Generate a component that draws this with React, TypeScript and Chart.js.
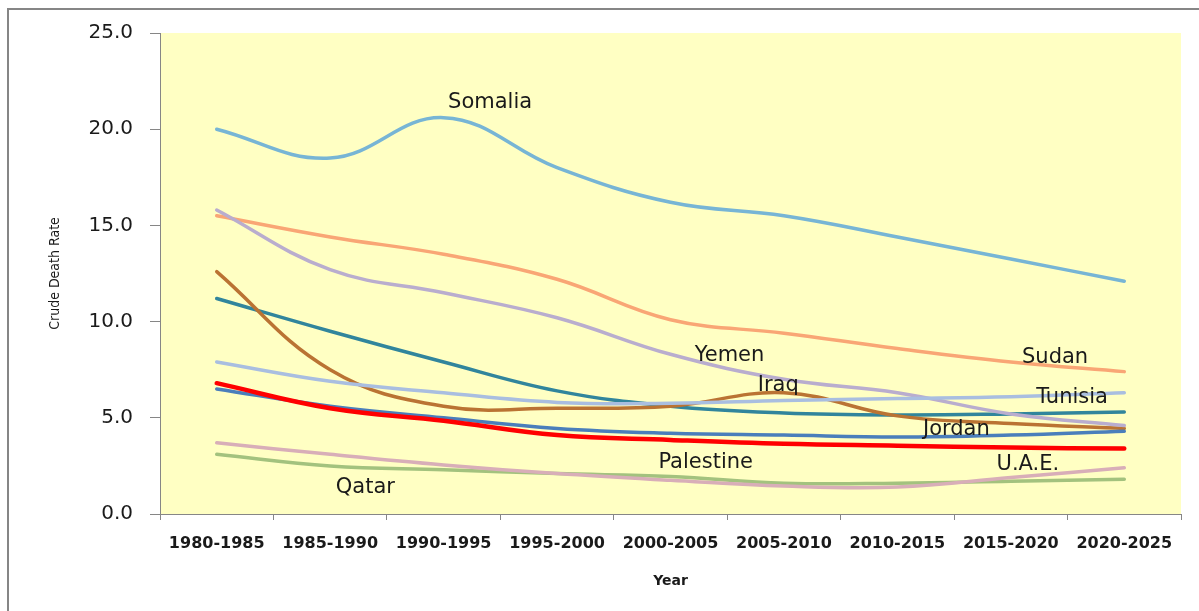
import React, { useEffect, useRef } from "react";
import { Chart, registerables } from "chart.js";

Chart.register(...registerables);

// ---- data ----
const periods = [
  "1980-1985",
  "1985-1990",
  "1990-1995",
  "1995-2000",
  "2000-2005",
  "2005-2010",
  "2010-2015",
  "2015-2020",
  "2020-2025",
];

const somalia = [20.0, 18.5, 20.6, 18.0, 16.2, 15.5, 14.4, 13.25, 12.1];
const sudan = [15.5, 14.4, 13.5, 12.2, 10.1, 9.4, 8.6, 7.9, 7.4];
const yemen = [15.8, 12.7, 11.5, 10.2, 8.3, 7.0, 6.3, 5.2, 4.6];
const iraq = [12.6, 7.5, 5.6, 5.5, 5.6, 6.3, 5.1, 4.7, 4.45];
const unlabelledTeal = [11.2, 9.5, 7.9, 6.4, 5.6, 5.25, 5.15, 5.2, 5.3];
const tunisia = [7.9, 6.9, 6.3, 5.8, 5.75, 5.9, 6.0, 6.1, 6.3];
const palestine = [6.8, 5.5, 4.85, 4.1, 3.85, 3.65, 3.55, 3.45, 3.4];
const jordan = [6.5, 5.6, 5.0, 4.45, 4.2, 4.1, 4.0, 4.1, 4.3];
const uae = [3.7, 3.1, 2.55, 2.1, 1.75, 1.45, 1.4, 1.9, 2.4];
const qatar = [3.1, 2.5, 2.3, 2.1, 1.95, 1.6, 1.6, 1.7, 1.8];

const yTicks = [0, 5, 10, 15, 20, 25];

// series name labels: [text, category position, value position]
const labelTexts = ["Somalia", "Yemen", "Iraq", "Sudan", "Tunisia", "Jordan", "Palestine", "U.A.E.", "Qatar"];
const labelIdx = [2.41, 4.52, 4.95, 7.39, 7.54, 6.52, 4.31, 7.15, 1.31];
const labelVal = [21.36, 8.26, 6.7, 8.11, 6.03, 4.37, 2.7, 2.55, 1.4];

const bgPlugin = {
  id: "plotBg",
  beforeDraw(chart: any) {
    const { ctx, chartArea: a } = chart;
    ctx.save();
    ctx.fillStyle = "#FFFFC3";
    ctx.fillRect(a.left, a.top, a.right - a.left, a.bottom - a.top);
    ctx.restore();
  },
};

const labelPlugin = {
  id: "seriesLabels",
  afterDatasetsDraw(chart: any) {
    const { ctx } = chart;
    const xs = chart.scales.x;
    const ys = chart.scales.y;
    ctx.save();
    ctx.font = "21px 'DejaVu Sans', sans-serif";
    ctx.fillStyle = "#1a1a1a";
    ctx.textAlign = "center";
    ctx.textBaseline = "middle";
    labelTexts.forEach((t, i) => {
      ctx.fillText(t, xs.getPixelForValue(labelIdx[i]), ys.getPixelForValue(labelVal[i]));
    });
    ctx.restore();
  },
};

const line = (label: string, data: number[], color: string, width = 3.5) => ({
  label,
  data,
  borderColor: color,
  backgroundColor: color,
  borderWidth: width,
  pointRadius: 0,
  pointHoverRadius: 0,
  tension: 0.4,
  borderCapStyle: "round" as const,
  borderJoinStyle: "round" as const,
  fill: false,
});

export default function App() {
  const ref = useRef<HTMLCanvasElement | null>(null);

  useEffect(() => {
    document.body.style.margin = "0";
    document.body.style.overflow = "hidden";
    if (!ref.current) return;
    const chart = new Chart(ref.current, {
      type: "line",
      data: {
        labels: periods,
        datasets: [
          line("Palestine", palestine, "#FF0000", 4.5),
          line("Tunisia", tunisia, "#A9BEE0"),
          line("Yemen", yemen, "#B9ADCE"),
          line("U.A.E.", uae, "#D8AEB8"),
          line("Qatar", qatar, "#A3C27E"),
          line("Jordan", jordan, "#4A7EBB"),
          line("Iraq", iraq, "#BA7333"),
          line("Unlabelled", unlabelledTeal, "#31859C"),
          line("Sudan", sudan, "#F9A675"),
          line("Somalia", somalia, "#77B5D5"),
        ],
      },
      options: {
        responsive: false,
        animation: false,
        devicePixelRatio: 1,
        layout: { padding: { left: 0, right: 18, top: 33, bottom: 0 } },
        plugins: {
          legend: { display: false },
          tooltip: { enabled: false },
        },
        scales: {
          x: {
            type: "category",
            offset: true,
            afterFit: (s: any) => {
              s.height = 97;
            },
            grid: {
              display: true,
              drawOnChartArea: false,
              drawTicks: true,
              tickLength: 6,
              offset: true,
              color: "#868686",
              lineWidth: 1,
            },
            border: { display: true, color: "#868686", width: 1 },
            ticks: {
              padding: 14,
              maxRotation: 0,
              autoSkip: false,
              color: "#1a1a1a",
              font: { family: "'DejaVu Sans', sans-serif", size: 16, weight: "bold" },
            },
            title: {
              display: true,
              text: "Year",
              color: "#1a1a1a",
              padding: { top: 0, bottom: 21 },
              font: { family: "'DejaVu Sans', sans-serif", size: 14, weight: "bold" },
            },
          },
          y: {
            min: 0,
            max: 25,
            afterFit: (s: any) => {
              s.width = 160;
            },
            afterBuildTicks: (s: any) => {
              s.ticks = yTicks.map((v) => ({ value: v }));
            },
            grid: {
              display: true,
              drawOnChartArea: false,
              drawTicks: true,
              tickLength: 10,
              color: "#868686",
              lineWidth: 1,
            },
            border: { display: true, color: "#868686", width: 1 },
            ticks: {
              padding: 17,
              color: "#1a1a1a",
              font: { family: "'DejaVu Sans', sans-serif", size: 20 },
              callback: (v: any) => Number(v).toFixed(1),
            },
            title: {
              display: true,
              text: "Crude Death Rate",
              color: "#1a1a1a",
              padding: { top: 47, bottom: 0 },
              font: { family: "'DejaVu Sans Condensed', 'Liberation Sans Narrow', sans-serif", size: 14 },
            },
          },
        },
      },
      plugins: [bgPlugin, labelPlugin],
    } as any);
    return () => chart.destroy();
  }, []);

  return (
    <div style={{ position: "relative", width: 1199, height: 611, overflow: "hidden", background: "#fff" }}>
      <canvas ref={ref} width={1199} height={611} style={{ position: "absolute", left: 0, top: 0, display: "block" }} />
      <div
        style={{
          position: "absolute",
          left: 7,
          top: 8,
          width: 1300,
          height: 700,
          border: "2px solid #868686",
          boxSizing: "border-box",
          pointerEvents: "none",
        }}
      />
    </div>
  );
}
